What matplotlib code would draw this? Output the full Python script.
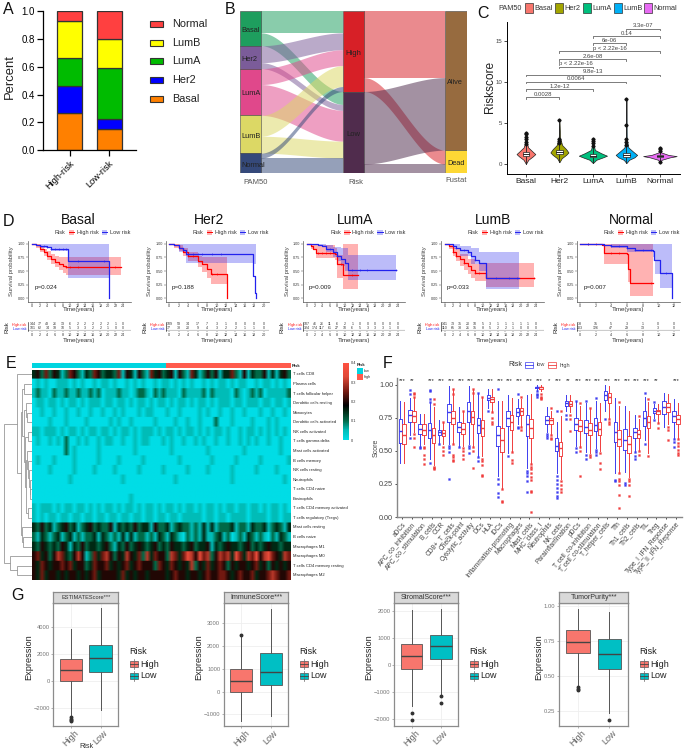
import numpy as np
import matplotlib
matplotlib.use("Agg")
import matplotlib.pyplot as plt
from matplotlib.colors import LinearSegmentedColormap
from matplotlib.patches import Rectangle

plt.rcParams['font.family'] = ['Liberation Sans', 'DejaVu Sans']

W, H = 685, 754

# ---------- panel A ----------
A_GROUPS = ["High-risk", "Low-risk"]
A_SUBTYPES = ["Basal", "Her2", "LumA", "LumB", "Normal"]
A_HIGH = [0.265, 0.20, 0.20, 0.27, 0.065]
A_LOW = [0.155, 0.07, 0.37, 0.21, 0.195]

# ---------- panel B ----------
B_TO_HIGH = [22, 17, 16, 21, 5]
B_TO_LOW = [13, 6, 31, 17, 15]
B_HIGH_FATE = [67, 14]
B_LOW_FATE = [73, 9]
B_RISK = ["High", "Low"]
B_FATE = ["Alive", "Dead"]

# ---------- panel C ----------
C_Y_BASAL = [0.0, 0.5, 0.9, 1.2, 1.5, 2.0, 2.6, 3.8]
C_W_BASAL = [0.0, 0.07, 0.2, 0.28, 0.2, 0.07, 0.02, 0.0]
C_Y_HER2 = [0.2, 0.7, 1.1, 1.4, 1.8, 2.3, 3.2, 5.5]
C_W_HER2 = [0.0, 0.07, 0.2, 0.27, 0.2, 0.08, 0.02, 0.0]
C_Y_LUMA = [0.1, 0.5, 0.8, 1.0, 1.3, 1.7, 2.3, 3.2]
C_W_LUMA = [0.0, 0.1, 0.3, 0.42, 0.25, 0.06, 0.02, 0.0]
C_Y_LUMB = [0.1, 0.5, 0.8, 1.1, 1.5, 2.0, 3.0, 8.0]
C_W_LUMB = [0.0, 0.08, 0.24, 0.32, 0.2, 0.06, 0.01, 0.0]
C_Y_NORMAL = [0.1, 0.5, 0.8, 0.95, 1.1, 1.4, 2.1]
C_W_NORMAL = [0.0, 0.05, 0.3, 0.5, 0.25, 0.04, 0.0]
C_BOX = [(1.0, 1.2, 1.45), (1.2, 1.4, 1.7), (0.8, 0.95, 1.15), (0.9, 1.1, 1.35), (0.8, 0.95, 1.1)]
C_OUT = [[2.4, 2.7, 3.0, 3.3, 3.6, 3.8], [2.5, 2.8, 3.1, 5.3], [2.2, 2.5, 2.8, 3.1],
         [2.3, 2.7, 3.0, 4.7, 7.9], [1.6, 1.8, 2.0, 0.2]]
C_BRACKETS = [(0, 1, 8.13, "0.0028"), (0, 2, 9.1, "1.2e-12"), (0, 3, 10.04, "0.0064"),
              (0, 4, 10.9, "9.8e-13"), (1, 2, 11.87, "p < 2.22e-16"), (1, 3, 12.8, "2.6e-08"),
              (1, 4, 13.75, "p < 2.22e-16"), (2, 3, 14.7, "6e-06"), (2, 4, 15.6, "0.14"),
              (3, 4, 16.5, "3.3e-07")]

# ---------- panel D ----------
BASAL_HIGH_T = [0, 1, 2, 3, 4, 5, 6, 7, 8, 8.8, 23.6]
BASAL_HIGH_S = [1, .97, .90, .84, .78, .72, .67, .63, .60, .57, .57]
BASAL_HIGH_UP_T = [0, 1, 2, 3, 4, 5, 6, 7, 8, 23.6]
BASAL_HIGH_UP = [1, .99, .94, .90, .86, .81, .78, .76, .75, .74]
BASAL_HIGH_LO_T = [0, 1, 2, 3, 4, 5, 6, 7, 8, 8.8, 23.6]
BASAL_HIGH_LO = [1, .93, .85, .78, .71, .63, .57, .52, .47, .43, .43]
BASAL_LOW_T = [0, 1, 2, 4, 5, 9.4, 9.5, 20.3, 20.3]
BASAL_LOW_S = [1, .98, .96, .94, .91, .90, .68, .68, 0]
BASAL_LOW_UP_T = [0, 20.3]
BASAL_LOW_UP = [1, 1]
BASAL_LOW_LO_T = [0, 2, 5, 9.5, 20.3]
BASAL_LOW_LO = [1, .93, .86, .38, .38]
BASAL_CENS = ([9, 10, 12, 22], [3, 4, 5, 6, 7, 8, 9, 12, 19])
BASAL_TABLE = ([144, 77, 43, 26, 13, 6, 2, 2, 2, 2, 2, 1, 0],
               [101, 62, 34, 18, 10, 5, 3, 3, 2, 2, 1, 0, 0])

HER2_HIGH_T = [0, 1, 2, 3, 4, 6, 7, 8, 8.8, 12.2, 12.2]
HER2_HIGH_S = [1, .97, .93, .85, .78, .68, .62, .53, .44, .44, 0]
HER2_HIGH_UP_T = [0, 2, 3, 4, 6, 7, 12.2]
HER2_HIGH_UP = [1, .98, .92, .85, .78, .76, .76]
HER2_HIGH_LO_T = [0, 1, 2, 3, 4, 6, 7, 8, 8.8, 12.2]
HER2_HIGH_LO = [1, .93, .87, .77, .68, .57, .48, .38, .26, .26]
HER2_LOW_T = [0, 1, 2, 3, 3.5, 17.8, 17.8, 18.2, 18.2, 18.3]
HER2_LOW_S = [1, .97, .92, .88, .81, .80, .40, .40, .10, 0]
HER2_LOW_UP_T = [0, 18.3]
HER2_LOW_UP = [1, 1]
HER2_LOW_LO_T = [0, 2, 3.5, 17.8, 18.3]
HER2_LOW_LO = [1, .85, .65, .63, .63]
HER2_CENS = ([4, 5, 9, 10], [4, 5, 6, 7, 9, 11])
HER2_TABLE = ([109, 53, 34, 17, 7, 3, 1, 0, 0, 0, 0],
              [77, 38, 20, 9, 4, 3, 2, 2, 1, 1, 0])

LUMA_HIGH_T = [0, 1, 1.5, 2.5, 7.5, 8, 9.5, 9.6, 13.5]
LUMA_HIGH_S = [1, .95, .90, .83, .82, .62, .60, .42, .42]
LUMA_HIGH_UP_T = [0, 2, 7.5, 8, 9.6, 13.5]
LUMA_HIGH_UP = [1, .97, .93, .80, 1, 1]
LUMA_HIGH_LO_T = [0, 1, 2.5, 7.5, 8, 9.6, 13.5]
LUMA_HIGH_LO = [1, .90, .73, .70, .37, .17, .17]
LUMA_LOW_T = [0, 3, 4, 5, 7, 8, 9, 10, 10.8, 23.6]
LUMA_LOW_S = [1, .98, .95, .90, .84, .78, .72, .65, .52, .52]
LUMA_LOW_UP_T = [0, 5, 7, 9, 10.8, 23.6]
LUMA_LOW_UP = [1, .98, .94, .92, .80, .80]
LUMA_LOW_LO_T = [0, 3, 5, 7, 8, 9, 10, 10.8, 23.6]
LUMA_LOW_LO = [1, .95, .85, .76, .68, .60, .50, .33, .33]
LUMA_CENS = ([3, 4, 5, 6, 9, 12], [6, 8, 12, 14, 16, 23.5])
LUMA_TABLE = ([107, 46, 26, 11, 6, 2, 1, 0, 0, 0, 0, 0, 0],
              [324, 174, 117, 61, 27, 10, 6, 5, 3, 3, 3, 1, 0])

LUMB_HIGH_T = [0, 1, 2, 3, 4, 5, 6, 7, 8, 10.8, 10.9, 23.6]
LUMB_HIGH_S = [1, .95, .85, .78, .72, .65, .60, .52, .46, .45, .37, .37]
LUMB_HIGH_UP_T = [0, 2, 4, 6, 8, 10.8, 10.9, 23.6]
LUMB_HIGH_UP = [1, .92, .82, .72, .62, .62, .65, .65]
LUMB_HIGH_LO_T = [0, 1, 2, 3, 4, 5, 6, 7, 8, 10.9, 23.6]
LUMB_HIGH_LO = [1, .90, .78, .68, .60, .52, .45, .38, .32, .20, .20]
LUMB_LOW_T = [0, 2, 3, 4, 6, 7, 8, 9, 10.8, 10.9, 19.5]
LUMB_LOW_S = [1, .96, .92, .88, .85, .77, .70, .65, .62, .37, .37]
LUMB_LOW_UP_T = [0, 4, 7, 9, 19.5]
LUMB_LOW_UP = [1, .96, .92, .84, .83]
LUMB_LOW_LO_T = [0, 2, 4, 7, 9, 10.9, 19.5]
LUMB_LOW_LO = [1, .90, .78, .63, .50, .17, .17]
LUMB_CENS = ([2, 3, 5, 8, 9, 23.5], [3, 5, 6, 8, 13.5, 17, 19])
LUMB_TABLE = ([141, 73, 35, 20, 10, 5, 3, 1, 1, 1, 1, 1, 0],
              [110, 65, 33, 21, 15, 8, 5, 2, 2, 1, 0, 0, 0])

NORMAL_HIGH_T = [0, 2.8, 3, 6, 6.1, 6.4, 9.3]
NORMAL_HIGH_S = [1, .98, .83, .82, .54, .28, .28]
NORMAL_HIGH_UP_T = [0, 9.3]
NORMAL_HIGH_UP = [1, 1]
NORMAL_HIGH_LO_T = [0, 3, 6.1, 6.4, 9.3]
NORMAL_HIGH_LO = [1, .63, .30, .05, .05]
NORMAL_LOW_T = [0, 3, 4, 6, 7, 9.3, 9.5, 10.2, 11.7, 11.7]
NORMAL_LOW_S = [1, .98, .96, .92, .88, .87, .70, .46, .46, 0]
NORMAL_LOW_UP_T = [0, 11.7]
NORMAL_LOW_UP = [1, 1]
NORMAL_LOW_LO_T = [0, 4, 6, 9.3, 9.6, 10.2, 11.7]
NORMAL_LOW_LO = [1, .93, .84, .75, .44, .18, .18]
NORMAL_CENS = ([1, 2, 4, 5, 9], [1, 3, 4, 5, 6, 7, 8, 9, 11])
NORMAL_TABLE = ([33, 15, 5, 3, 1, 0, 0],
                [203, 126, 47, 29, 13, 3, 0])

# ---------- panel E ----------
E_ROWS = ["T cells CD8", "Plasma cells", "T cells follicular helper", "Dendritic cells resting",
          "Monocytes", "Dendritic cells activated", "NK cells activated", "T cells gamma delta",
          "Mast cells activated", "B cells memory", "NK cells resting", "Neutrophils",
          "T cells CD4 naive", "Eosinophils", "T cells CD4 memory activated",
          "T cells regulatory (Tregs)", "Mast cells resting", "B cells naive", "Macrophages M1",
          "Macrophages M0", "T cells CD4 memory resting", "Macrophages M2"]
# one digit per column block, level = digit * 0.05
E_LEVELS = ["3425 2431 2542 1325 4233 2514 3142 1534 2341 4215 3124 2413 3521 4132 2413 1342",
            "0101 0011 1010 1001 0110 1001 0101 0010 1101 0101 0010 1011 0101 1001 0110 1010",
            "1211 0211 2112 1121 2011 1211 0122 1021 2111 0211 1120 2111 1021 0121 2011 1112",
            "0110 1101 0110 1011 1011 0110 1011 0101 1010 1101 0110 1011 1011 0111 0110 1101",
            "0010 0100 1001 0010 0100 1010 0010 1100 0100 1000 0101 0010 0100 1000 1001 0010",
            "0000 1000 1000 0100 0001 0100 1000 0010 0001 0010 0100 0200 0100 0010 0010 1000",
            "1101 1101 0110 1011 0110 1011 0101 1101 0110 1011 0101 0110 1001 0110 1010 1010",
            "0100 1010 2001 0100 1011 0010 0101 1000 1010 0100 1010 0100 1001 0101 0010 0100",
            "0000 0000 2010 0000 1000 0000 0100 0000 0010 0000 0001 0000 0000 1000 0000 0100",
            "0100 0100 0010 0000 1000 0100 0001 0000 0000 1000 0000 1000 0010 0000 1000 0001",
            "0000 1000 0010 0001 0000 1000 0010 0000 1000 0010 0001 0000 0100 0001 0000 1000",
            "0000 0000 0100 0000 0000 0010 0000 0000 0001 0000 0000 0000 0100 0000 0000 0010",
            "0000 0000 0000 0000 0000 0000 0000 0000 0000 0000 0000 0000 0000 0000 0000 0000",
            "0000 0000 0000 0000 0000 0000 1000 0000 0000 0000 0000 0000 0000 0000 0000 0000",
            "1011 1010 1101 1010 1011 0101 1010 1101 0110 1011 0101 1010 1101 1011 0101 1010",
            "1010 1101 1011 0110 1101 1011 0110 1101 1011 0111 1101 1011 0111 1011 1101 1011",
            "3242 3123 4231 2342 3224 1323 2423 3142 2312 3221 2131 3122 2312 2132 2312 3213",
            "2132 1231 2312 1223 1321 2131 3122 1213 2132 1021 2131 1231 2012 1321 2102 1321",
            "3243 2324 3132 4233 2342 1324 2343 2342 3243 3234 2334 1323 4332 3423 2343 3233",
            "4534 2465 3246 4125 3564 2436 4352 6354 4265 3576 4756 2465 6375 3657 4675 4365",
            "4354 3445 4534 4235 4453 4345 3454 4425 4354 3436 2435 3454 2434 4345 3424 3434",
            "4353 4434 3443 4345 3444 4353 4344 3444 4345 4434 4345 4455 4345 4453 4456 5445"]
E_LOW_SHARE = 0.52
E_TREE = (82, (45, 0, (33, (28, (23, 1, 2),
                            (22, (16, 3, (13, 4, 5)),
                             (20, (12, 6, 7),
                              (17, (14, 8, (11, 9, (9, 10, (6, 11, (4, 12, 13))))), (10, 14, 15))))),
                       (29, 16, (25, 17, 18)))),
          (65, 19, (43, 20, 21)))

# ---------- panel F ----------
F_NAMES = ["aDCs", "APC_co_inhibition", "APC_co_stimulation", "B_cells", "CCR", "CD8+_T_cells",
           "Check-point", "Cytolytic_activity", "DCs", "HLA", "iDCs", "Inflammation-promoting",
           "Macrophages", "Mast_cells", "MHC_class_I", "Neutrophils", "NK_cells",
           "Parainflammation", "pDCs", "T_cell_co-inhibition", "T_cell_co-stimulation",
           "T_helper_cells", "Tfh", "Th1_cells", "Th2_cells", "TIL", "Treg",
           "Type_I_IFN_Reponse", "Type_II_IFN_Reponse"]
F_STARS = ["***", "**", "", "***", "***", "***", "***", "***", "***", "***", "***", "***", "***",
           "***", "***", "*", "***", "**", "***", "***", "***", "***", "***", "***", "***", "***",
           "**", "", "***"]
# whisker low, q1, median, q3, whisker high
F_LOW = [(.41, .56, .65, .74, .88), (.62, .72, .77, .81, .90), (.54, .63, .665, .70, .78),
         (.44, .60, .655, .71, .87), (.56, .62, .64, .66, .73), (.55, .72, .79, .85, .99),
         (.54, .64, .68, .72, .83), (.55, .72, .80, .87, .99), (.46, .635, .695, .75, .93),
         (.82, .885, .90, .92, .97), (.31, .54, .62, .69, .88), (.48, .69, .75, .80, .92),
         (.70, .76, .79, .82, .89), (.37, .61, .70, .77, .92), (.96, .975, .98, .985, 1.0),
         (.64, .70, .73, .76, .83), (.33, .50, .54, .60, .72), (.80, .84, .86, .875, .92),
         (.54, .66, .70, .745, .88), (.49, .635, .68, .73, .86), (.52, .65, .695, .745, .88),
         (.80, .885, .92, .95, 1.0), (.33, .565, .645, .72, .90), (.34, .51, .58, .665, .84),
         (.50, .60, .64, .675, .77), (.58, .69, .745, .80, .91), (.75, .785, .80, .82, .85),
         (.68, .78, .83, .875, .94), (.60, .72, .76, .80, .89)]
F_HIGH = [(.41, .55, .62, .70, .87), (.64, .72, .76, .80, .90), (.55, .62, .66, .70, .78),
          (.39, .56, .62, .67, .83), (.55, .615, .635, .66, .71), (.56, .70, .745, .80, .96),
          (.54, .63, .665, .71, .80), (.54, .70, .755, .80, .97), (.46, .61, .675, .73, .90),
          (.80, .87, .89, .91, .97), (.22, .49, .585, .67, .88), (.50, .66, .715, .77, .90),
          (.69, .77, .80, .825, .89), (.41, .60, .675, .74, .93), (.95, .97, .98, .985, .995),
          (.63, .70, .73, .75, .80), (.29, .46, .52, .57, .76), (.79, .84, .855, .875, .92),
          (.54, .65, .685, .73, .84), (.48, .62, .66, .71, .82), (.50, .62, .665, .72, .86),
          (.75, .86, .91, .94, .99), (.34, .54, .59, .66, .84), (.30, .485, .55, .61, .80),
          (.51, .60, .63, .66, .74), (.48, .67, .72, .76, .87), (.72, .78, .80, .81, .85),
          (.70, .79, .83, .86, .93), (.60, .70, .74, .77, .86)]
F_LOW_OUT = [[], [.96, .93, .60], [.53, .52], [.96, .95, .89, .87, .41], [.55],
             [.54, .52, .49, .29], [.53], [.54, .52, .48], [.94, .45, .42], [.80],
             [.97, .29, .25, .18, .15], [.46], [.93, .68, .67], [.35, .33, .31, .27, .19],
             [.95, .93, .92, .91], [.63, .61, .60], [.80, .31, .28, .25, .22, .19, .16, .14],
             [.77, .74], [.88, .52, .49], [.88, .47, .44], [.90, .51, .49, .47], [.74],
             [.28, .27], [.26, .24], [.49, .46, .44], [.94, .55], [.87, .73], [],
             [.59, .57, .53]]
F_HIGH_OUT = [[], [.94, .93, .91, .63, .60, .53], [.53, .52, .47, .44, .40],
              [.89, .85, .38, .37, .36], [.72, .53, .50, .47], [.97, .93, .55, .47, .45, .43, .42],
              [.80, .52, .50, .47, .44], [.97, .94, .53, .50, .37], [.91, .44, .42, .39, .32, .31],
              [.79, .75, .72, .70], [.21, .12, .11], [.49, .43, .41], [.91, .68, .66],
              [.40, .38, .36, .33, .30, .28, .20, .19, .04], [.93, .91, .90, .89],
              [.82, .62, .60, .59], [.80, .27, .24, .21, .19], [.77, .74, .65],
              [.86, .53, .50, .31], [.82, .47, .45], [.48, .41, .36], [.74, .72, .70],
              [.87, .33, .29, .27, .24, .17, .07], [.29, .27, .24, .16], [.76, .50, .47],
              [.89, .46], [.71, .67], [.68, .66, .58], [.59, .56, .54, .51, .48, .47]]

# ---------- panel G ----------
G_TITLES = ["ESTIMATEScore***", "ImmuneScore***", "StromalScore***", "TumorPurity***"]
G_HIGH = [(-2550, -10, 850, 1620, 3850), (-1270, 0, 460, 980, 2400),
          (-1500, -150, 320, 780, 2030), (.44, .665, .745, .825, .98)]
G_LOW = [(-2100, 650, 1700, 2650, 5350), (-1060, 270, 870, 1670, 3620),
         (-1050, 220, 700, 1120, 2080), (.24, .55, .66, .765, .955)]
G_HIGH_OUT = [[-2650, -2750, -2850, -2900], [2480], [-1750, -2040], [.42, .41, .40]]
G_LOW_OUT = [[], [], [-1150, -1390], [.19]]
G_TICKS = [[-2000, 0, 2000, 4000], [-1000, 0, 1000, 2000, 3000], [-2000, -1000, 0, 1000, 2000],
           [.25, .50, .75, 1.00]]
G_TICKLABELS = [["\u22122000", "0", "2000", "4000"], ["\u22121000", "0", "1000", "2000", "3000"],
                ["\u22122000", "\u22121000", "0", "1000", "2000"], ["0.25", "0.50", "0.75", "1.00"]]
G_YLIM = [(-3264, 5742), (-1495, 3883), (-2235, 2284), (.147, 1.02)]

fig = plt.figure(figsize=(W / 100, H / 100), dpi=100, facecolor="white")


def ax_px(x0, y0, x1, y1):
    return fig.add_axes([x0 / W, 1 - y1 / H, (x1 - x0) / W, (y1 - y0) / H])


# overlay in pixel coordinates, for panel letters and hand placed legends
pg = ax_px(0, 0, W, H)
pg.set_xlim(0, W)
pg.set_ylim(H, 0)
pg.axis("off")
pg.set_zorder(20)
pg.patch.set_alpha(0)

for letter, x, y in [("A", 3, 10), ("B", 225, 10), ("C", 477, 13), ("D", 3, 222),
                     ("E", 6, 363), ("F", 383, 364), ("G", 11, 595)]:
    pg.text(x, y, letter, fontsize=11.5, ha="left", va="center", color="#111111")

# ---------- A: stacked bars ----------
colors_a = ["#FF8000", "#0000FF", "#00BB00", "#FFFF00", "#FF4040"]
ax = ax_px(43, 11.5, 136, 150)
bottom = np.zeros(2)
for i, name in enumerate(A_SUBTYPES):
    vals = np.array([A_HIGH[i], A_LOW[i]])
    ax.bar([0, 1], vals, 0.63, bottom=bottom, color=colors_a[i], edgecolor="#333333", linewidth=0.9, label=name)
    bottom += vals
ax.set_xlim(-0.67, 1.68)
ax.set_ylim(0, 1)
ax.set_yticks([0, 0.2, 0.4, 0.6, 0.8, 1.0])
ax.set_xticks([0, 1])
ax.set_xticklabels(A_GROUPS, rotation=45, ha="right", rotation_mode="anchor", fontsize=6.6)
ax.tick_params(axis="y", labelsize=7, width=0.9, length=4, pad=2)
ax.tick_params(axis="x", width=0.9, length=4, pad=2)
ax.spines[["top", "right"]].set_visible(False)
ax.spines[["left", "bottom"]].set_linewidth(0.9)
pg.text(10, 77, "Percent", rotation=90, fontsize=9.4, ha="center", va="center", color="#222222")
for i, name in enumerate(A_SUBTYPES):
    yy = 98.5 - i * 18.6
    pg.add_patch(Rectangle((150, yy - 3), 13, 6, facecolor=colors_a[i], edgecolor="#333333", linewidth=0.8))
    pg.text(172.5, yy, name, fontsize=7.8, ha="left", va="center", color="#222222")

# ---------- B: alluvial ----------
node_a = ["#1E9E5E", "#7B5C99", "#E0488B", "#DCD865", "#35497A"]
node_b = ["#D72027", "#502C4D"]
node_c = ["#976B3F", "#FDD835"]
ax = ax_px(240, 11, 467, 173)
total = sum(B_TO_HIGH) + sum(B_TO_LOW)
ax.set_xlim(240, 467)
ax.set_ylim(total, 0)
ax.axis("off")


def band(x0, x1, a0, a1, b0, b1, color):
    xs = np.linspace(x0, x1, 60)
    t = (xs - x0) / (x1 - x0)
    s = t * t * (3 - 2 * t)
    ax.fill_between(xs, a0 + (b0 - a0) * s, a1 + (b1 - a1) * s, color=color, alpha=0.52, linewidth=0)


left_top = 0
right_high = 0
right_low = sum(B_TO_HIGH)
for i, name in enumerate(A_SUBTYPES):
    h, l = B_TO_HIGH[i], B_TO_LOW[i]
    band(261, 343, left_top, left_top + h, right_high, right_high + h, node_a[i])
    band(261, 343, left_top + h, left_top + h + l, right_low, right_low + l, node_a[i])
    ax.add_patch(Rectangle((240, left_top), 21, h + l, facecolor=node_a[i], edgecolor="#444444", linewidth=0.4))
    ax.text(241, left_top + (h + l) / 2 + 2, name, fontsize=5.3, va="center", ha="left", color="#222222", clip_on=False)
    left_top += h + l
    right_high += h
    right_low += l

fate_alive = 0
fate_dead = B_HIGH_FATE[0] + B_LOW_FATE[0]
risk_top = 0
for i, name in enumerate(B_RISK):
    fate = B_HIGH_FATE if i == 0 else B_LOW_FATE
    band(364, 445, risk_top, risk_top + fate[0], fate_alive, fate_alive + fate[0], node_b[i])
    band(364, 445, risk_top + fate[0], risk_top + sum(fate), fate_dead, fate_dead + fate[1], node_b[i])
    ax.add_patch(Rectangle((343, risk_top), 21, sum(fate), facecolor=node_b[i], edgecolor="#444444", linewidth=0.4))
    ax.text(353.5, risk_top + sum(fate) / 2 + 2, name, fontsize=5.5, va="center", ha="center", color="#222222")
    risk_top += sum(fate)
    fate_alive += fate[0]
    fate_dead += fate[1]

alive = B_HIGH_FATE[0] + B_LOW_FATE[0]
dead = B_HIGH_FATE[1] + B_LOW_FATE[1]
ax.add_patch(Rectangle((445, 0), 22, alive, facecolor=node_c[0], edgecolor="#444444", linewidth=0.4))
ax.add_patch(Rectangle((445, alive), 22, dead, facecolor=node_c[1], edgecolor="#444444", linewidth=0.4))
ax.text(447, alive / 2 + 2, B_FATE[0], fontsize=5.3, va="center", ha="left", color="#222222")
ax.text(447, alive + dead / 2 + 2, B_FATE[1], fontsize=5.3, va="center", ha="left", color="#222222")
pg.text(256, 182, "PAM50", fontsize=5.5, ha="center", va="center", color="#555555")
pg.text(356, 182, "Risk", fontsize=5.5, ha="center", va="center", color="#555555")
pg.text(456, 181, "Fustat", fontsize=5.5, ha="center", va="center", color="#555555")

# ---------- C: violins ----------
colors_c = ["#F8766D", "#A3A500", "#00BF7D", "#00B0F6", "#E76BF3"]
profiles = [(C_Y_BASAL, C_W_BASAL), (C_Y_HER2, C_W_HER2), (C_Y_LUMA, C_W_LUMA),
            (C_Y_LUMB, C_W_LUMB), (C_Y_NORMAL, C_W_NORMAL)]
ax = ax_px(506.5, 21.7, 680, 173.5)
ax.set_xlim(-0.58, 4.6)
ax.set_ylim(-1.17, 17.35)
for i, (ys, ws) in enumerate(profiles):
    ws = np.array(ws)
    ax.fill_betweenx(ys, i - ws, i + ws, facecolor=colors_c[i], edgecolor="#222222", linewidth=0.5, zorder=2)
    ax.plot([i, i], [ys[0], ys[-1]], color="#222222", lw=0.6, zorder=2)
    ax.plot([i] * len(C_OUT[i]), C_OUT[i], "D", color="#111111", ms=1.6, zorder=3)
    q1, med, q3 = C_BOX[i]
    ax.add_patch(Rectangle((i - 0.1, q1), 0.2, q3 - q1, facecolor="white", edgecolor="#222222", linewidth=0.5, zorder=4))
    ax.plot([i - 0.1, i + 0.1], [med, med], color="#222222", lw=0.7, zorder=5)
for a, b, y, label in C_BRACKETS:
    ax.plot([a, a, b, b], [y - 0.2, y, y, y - 0.2], color="#666666", lw=0.6)
    ax.text((a + b) / 2, y + 0.03, label, fontsize=4.3, ha="center", va="bottom", color="#444444")
ax.set_xticks(range(5))
ax.set_xticklabels(A_SUBTYPES, fontsize=6, color="#222222")
ax.set_yticks([0, 5, 10, 15])
ax.tick_params(axis="y", labelsize=4.4, length=2, width=0.5, pad=1, labelcolor="#444444")
ax.tick_params(axis="x", length=2, width=0.5, pad=1.5)
ax.spines[["top", "right"]].set_visible(False)
ax.spines[["left", "bottom"]].set_linewidth(0.7)
pg.text(490.5, 87, "Riskscore", rotation=90, fontsize=8.6, ha="center", va="center", color="#222222")
pg.text(498, 8, "PAM50", fontsize=5.2, ha="left", va="center", color="#333333")
for name, col, kx in zip(A_SUBTYPES, colors_c, [525, 555, 583, 614, 644]):
    pg.add_patch(Rectangle((kx, 3), 8.5, 9.5, facecolor=col, edgecolor="#333333", linewidth=0.5))
    pg.text(kx + 9.5, 8, name, fontsize=5.3, ha="left", va="center", color="#333333")


# ---------- D: survival curves ----------
def step_at(ts, vals, grid):
    idx = np.searchsorted(ts, grid, side="right") - 1
    return np.array(vals)[idx]


def km_curve(ax, t, s, up_t, up, lo_t, lo, cens, color):
    grid = np.unique(up_t + lo_t)
    ax.fill_between(grid, step_at(lo_t, lo, grid), step_at(up_t, up, grid), step="post",
                    color=color, alpha=0.3, linewidth=0)
    ax.step(t, s, where="post", color=color, lw=0.9)
    ax.plot(cens, step_at(t, s, np.array(cens)), "+", color=color, ms=2, mew=0.4)


def km_panel(title, title_x, spine, tick0, tickend, xmax, right, p, high, low, table, ticks):
    scale = (tickend - tick0) / xmax
    xlim = ((spine - tick0) / scale, (right - tick0) / scale)
    ax = ax_px(spine, 241, right, 301.7)
    km_curve(ax, *high, "#FF0000")
    km_curve(ax, *low, "#2222EE")
    ax.set_xlim(xlim)
    ax.set_ylim(-0.062, 1.05)
    ax.set_xticks(ticks)
    ax.set_yticks([0, .25, .5, .75, 1])
    ax.set_yticklabels(["0.00", "0.25", "0.50", "0.75", "1.00"])
    ax.tick_params(labelsize=2.7, length=1.2, width=0.3, pad=0.8, colors="#333333")
    ax.spines[["top", "right"]].set_visible(False)
    ax.spines[["left", "bottom"]].set_linewidth(0.5)
    ax.spines[["left", "bottom"]].set_color("#555555")
    ax.text(0.5, 0.19, p, fontsize=4.5, ha="left", va="center", color="#222222")
    pg.text(spine - 16, 271, "Survival probability", rotation=90, fontsize=4.2, ha="center", va="center", color="#444444")
    cx = (spine + right) / 2
    pg.text(cx, 310, "Time(years)", fontsize=4.4, ha="center", va="center", color="#333333")
    pg.text(title_x, 220, title, fontsize=10, ha="center", va="center", color="#111111")

    # legend row
    x0 = spine + 27
    pg.text(x0, 232.3, "Risk", fontsize=4, ha="left", va="center", color="#333333")
    for kx, col, name in [(x0 + 14, "#FF0000", "High risk"), (x0 + 47, "#2222EE", "Low risk")]:
        pg.add_patch(Rectangle((kx, 229.5), 5.5, 5.5, facecolor=col, alpha=0.3, linewidth=0))
        pg.plot([kx, kx + 5.5], [232.3, 232.3], color=col, lw=0.7)
        pg.text(kx + 8, 232.3, name, fontsize=4, ha="left", va="center", color="#333333")

    # numbers at risk
    tb = ax_px(spine, 322, right, 331)
    tb.set_xlim(xlim)
    tb.set_ylim(0, 9)
    for j, tick in enumerate(ticks):
        tb.text(tick, 6.8, str(table[0][j]), fontsize=2.6, ha="center", va="center", color="#333333")
        tb.text(tick, 2.8, str(table[1][j]), fontsize=2.6, ha="center", va="center", color="#333333")
    tb.axhline(0, color="#CCCCCC", lw=1.6)
    tb.set_xticks(ticks)
    tb.set_yticks([])
    tb.tick_params(labelsize=2.7, length=0.8, width=0.3, pad=0.5, colors="#333333")
    tb.spines[["top", "right", "bottom"]].set_visible(False)
    tb.spines["left"].set_linewidth(0.4)
    pg.text(spine - 1.5, 324.8, "High risk", fontsize=2.6, ha="right", va="center", color="#FF0000")
    pg.text(spine - 1.5, 328.6, "Low risk", fontsize=2.6, ha="right", va="center", color="#2222EE")
    pg.text(spine - 21, 327, "Risk", rotation=90, fontsize=4.3, ha="center", va="center", color="#222222")
    pg.text(cx, 340.5, "Time(years)", fontsize=4.4, ha="center", va="center", color="#333333")


t24 = list(range(0, 25, 2))
km_panel("Basal", 78, 28, 32.3, 123, 24, 131, "p=0.024",
         (BASAL_HIGH_T, BASAL_HIGH_S, BASAL_HIGH_UP_T, BASAL_HIGH_UP, BASAL_HIGH_LO_T, BASAL_HIGH_LO, BASAL_CENS[0]),
         (BASAL_LOW_T, BASAL_LOW_S, BASAL_LOW_UP_T, BASAL_LOW_UP, BASAL_LOW_LO_T, BASAL_LOW_LO, BASAL_CENS[1]),
         BASAL_TABLE, t24)
km_panel("Her2", 209, 165.7, 169.3, 263.7, 20, 269, "p=0.188",
         (HER2_HIGH_T, HER2_HIGH_S, HER2_HIGH_UP_T, HER2_HIGH_UP, HER2_HIGH_LO_T, HER2_HIGH_LO, HER2_CENS[0]),
         (HER2_LOW_T, HER2_LOW_S, HER2_LOW_UP_T, HER2_LOW_UP, HER2_LOW_LO_T, HER2_LOW_LO, HER2_CENS[1]),
         HER2_TABLE, list(range(0, 21, 2)))
km_panel("LumA", 355, 303.3, 307, 397.7, 24, 405, "p=0.009",
         (LUMA_HIGH_T, LUMA_HIGH_S, LUMA_HIGH_UP_T, LUMA_HIGH_UP, LUMA_HIGH_LO_T, LUMA_HIGH_LO, LUMA_CENS[0]),
         (LUMA_LOW_T, LUMA_LOW_S, LUMA_LOW_UP_T, LUMA_LOW_UP, LUMA_LOW_LO_T, LUMA_LOW_LO, LUMA_CENS[1]),
         LUMA_TABLE, t24)
km_panel("LumB", 493, 441, 445, 535.7, 24, 544, "p=0.033",
         (LUMB_HIGH_T, LUMB_HIGH_S, LUMB_HIGH_UP_T, LUMB_HIGH_UP, LUMB_HIGH_LO_T, LUMB_HIGH_LO, LUMB_CENS[0]),
         (LUMB_LOW_T, LUMB_LOW_S, LUMB_LOW_UP_T, LUMB_LOW_UP, LUMB_LOW_LO_T, LUMB_LOW_LO, LUMB_CENS[1]),
         LUMB_TABLE, t24)
km_panel("Normal", 631.7, 576.7, 580, 674, 12, 680, "p=0.007",
         (NORMAL_HIGH_T, NORMAL_HIGH_S, NORMAL_HIGH_UP_T, NORMAL_HIGH_UP, NORMAL_HIGH_LO_T, NORMAL_HIGH_LO, NORMAL_CENS[0]),
         (NORMAL_LOW_T, NORMAL_LOW_S, NORMAL_LOW_UP_T, NORMAL_LOW_UP, NORMAL_LOW_LO_T, NORMAL_LOW_LO, NORMAL_CENS[1]),
         NORMAL_TABLE, list(range(0, 13, 2)))

# ---------- E: heatmap ----------
levels = np.array([[int(c) * 0.05 for c in row.replace(" ", "")] for row in E_LEVELS])
cmap_e = LinearSegmentedColormap.from_list("cell", [(0, "#00DDE6"), (0.125, "#00BDB8"), (0.25, "#006A48"),
                                                    (0.375, "#002A14"), (0.45, "#000000"), (0.625, "#701810"),
                                                    (0.825, "#E04A38"), (1, "#FF5040")])
ax = ax_px(31.7, 369.7, 290.7, 580)
# rows repeated so the smoothing only softens the column streaks
im = ax.imshow(np.repeat(levels, 12, axis=0), aspect="auto", cmap=cmap_e, vmin=0, vmax=0.4,
               interpolation="bilinear")
ax.axis("off")
for i, name in enumerate(E_ROWS):
    ax.text(1.008, 1 - (i + 0.5) / len(E_ROWS), name, transform=ax.transAxes, fontsize=3, ha="left", va="center", color="#222222")
bar = ax_px(31.7, 363.3, 290.7, 368.3)
bar.barh([0], [E_LOW_SHARE], left=0, height=1, color="#00D5E0")
bar.barh([0], [1 - E_LOW_SHARE], left=E_LOW_SHARE, height=1, color="#FF5B4D")
bar.set_xlim(0, 1)
bar.set_ylim(-0.5, 0.5)
bar.axis("off")
pg.text(292, 366, "Risk", fontsize=3, fontweight="bold", ha="left", va="center", color="#222222")

den = ax_px(3, 369.7, 31.7, 580)
den.set_xlim(86, 0)
den.set_ylim(len(E_ROWS), 0)
den.axis("off")


def draw_tree(node):
    if not isinstance(node, tuple):
        return 0, node + 0.5
    h, a, b = node
    ha, ya = draw_tree(a)
    hb, yb = draw_tree(b)
    den.plot([ha, h, h, hb], [ya, ya, yb, yb], color="#999999", lw=0.6, solid_joinstyle="miter")
    return h, (ya + yb) / 2


draw_tree(E_TREE)

cax = ax_px(343, 363, 349, 440)
cb = fig.colorbar(im, cax=cax, ticks=[0, 0.1, 0.2, 0.3, 0.4])
cb.ax.set_yticklabels(["0", "0.1", "0.2", "0.3", "0.4"])
cb.outline.set_visible(False)
cb.ax.tick_params(labelsize=2.8, length=0, pad=1, colors="#333333")
pg.text(357, 365, "Risk", fontsize=3, fontweight="bold", ha="left", va="center", color="#222222")
pg.add_patch(Rectangle((357, 368), 6, 6, facecolor="#00D5E0", linewidth=0))
pg.add_patch(Rectangle((357, 374), 6, 6, facecolor="#FF5B4D", linewidth=0))
pg.text(364, 371, "low", fontsize=2.8, ha="left", va="center", color="#333333")
pg.text(364, 377, "high", fontsize=2.8, ha="left", va="center", color="#333333")


# ---------- F: paired boxplots ----------
def box_stats(row, out):
    return dict(whislo=row[0], q1=row[1], med=row[2], q3=row[3], whishi=row[4], fliers=out)


ax = ax_px(396.7, 378, 681.7, 517.3)
blue, red = "#3C3CF0", "#F03C3C"
for rows, outs, col, shift in [(F_LOW, F_LOW_OUT, blue, -0.2), (F_HIGH, F_HIGH_OUT, red, 0.2)]:
    stats = [box_stats(r, o) for r, o in zip(rows, outs)]
    ax.bxp(stats, positions=np.arange(len(stats)) + shift, widths=0.36, manage_ticks=False,
           showcaps=False,
           boxprops=dict(color=col, linewidth=0.65), whiskerprops=dict(color=col, linewidth=0.7),
           medianprops=dict(color=col, linewidth=1.0),
           flierprops=dict(marker="s", markerfacecolor=col, markeredgecolor=col, markersize=1.4, markeredgewidth=0.2))
for i, s in enumerate(F_STARS):
    ax.text(i, 1.033, s, fontsize=4.2, ha="center", va="center", color="#222222")
ax.set_xlim(-0.573, 28.6)
ax.set_ylim(-0.002, 1.05)
ax.set_xticks(range(len(F_NAMES)))
ax.set_xticklabels(F_NAMES, rotation=50, ha="right", rotation_mode="anchor", fontsize=4.8, color="#444444")
ax.set_yticks([0, .25, .5, .75, 1])
ax.set_yticklabels(["0.00", "0.25", "0.50", "0.75", "1.00"])
ax.tick_params(axis="y", labelsize=5.2, length=1.5, width=0.5, pad=1, labelcolor="#444444")
ax.tick_params(axis="x", length=1.5, width=0.5, pad=1)
ax.spines[["top", "right"]].set_visible(False)
ax.spines[["left", "bottom"]].set_linewidth(1)
ax.spines[["left", "bottom"]].set_color("#888888")
pg.text(376, 448, "Score", rotation=90, fontsize=5, ha="center", va="center", color="#444444")
pg.text(508, 365, "Risk", fontsize=5, ha="left", va="center", color="#333333")
for kx, col, name in [(525, blue, "low"), (548, red, "high")]:
    pg.add_patch(Rectangle((kx, 362), 8, 6, facecolor="white", edgecolor=col, linewidth=0.5))
    pg.plot([kx, kx + 8], [365, 365], color=col, lw=0.6)
    pg.text(kx + 12, 365, name, fontsize=4, ha="left", va="center", color="#444444")

# ---------- G: ggplot boxplots ----------
g_panels = [(53.3, 118.3), (223.7, 288.3), (394, 458.3), (559, 628.3)]
g_legend_x = [130, 300, 470, 640]
g_exp_x = [29, 198.5, 369, 538.5]
g_title_size = [4.1, 5.1, 5.1, 5.1]
col_high, col_low = "#F8766D", "#00BFC4"
for i, (x0, x1) in enumerate(g_panels):
    ax = ax_px(x0, 603, x1, 725.7)
    stats = [box_stats(G_HIGH[i], G_HIGH_OUT[i]), box_stats(G_LOW[i], G_LOW_OUT[i])]
    parts = ax.bxp(stats, positions=[1, 2], widths=0.75, patch_artist=True, showcaps=False, manage_ticks=False,
                   boxprops=dict(edgecolor="#555555", linewidth=0.6),
                   whiskerprops=dict(color="#555555", linewidth=0.7),
                   medianprops=dict(color="#444444", linewidth=1.0),
                   flierprops=dict(marker="o", markerfacecolor="#333333", markeredgecolor="#333333", markersize=1.8))
    parts["boxes"][0].set_facecolor(col_high)
    parts["boxes"][1].set_facecolor(col_low)
    ax.set_xlim(0.4, 2.6)
    ax.set_ylim(G_YLIM[i])
    ax.set_xticks([1, 2])
    ax.set_xticklabels(["High", "Low"], rotation=45, ha="center", fontsize=6.5, color="#666666")
    ax.set_yticks(G_TICKS[i])
    ax.set_yticklabels(G_TICKLABELS[i])
    ax.tick_params(axis="y", labelsize=4.2, length=1.5, width=0.4, pad=1, labelcolor="#777777", color="#777777")
    ax.tick_params(axis="x", length=1.5, width=0.4, pad=0.5, color="#777777")
    ax.grid(True, color="#EFEFEF", lw=0.6)
    ax.set_axisbelow(True)
    for sp in ax.spines.values():
        sp.set_color("#8C8C8C")
        sp.set_linewidth(0.9)
    strip = ax_px(x0, 592, x1, 603)
    strip.set_facecolor("#D9D9D9")
    strip.set_xticks([])
    strip.set_yticks([])
    for sp in strip.spines.values():
        sp.set_color("#8C8C8C")
        sp.set_linewidth(0.9)
    strip.text(0.5, 0.5, G_TITLES[i], transform=strip.transAxes, fontsize=g_title_size[i], ha="center", va="center", color="#333333")
    pg.text(g_exp_x[i], 657, "Expression", rotation=90, fontsize=6.6, ha="center", va="center", color="#222222")

    lx = g_legend_x[i]
    pg.text(lx - 1, 652, "Risk", fontsize=6.5, ha="left", va="center", color="#222222")
    for yy, col, name in [(664.3, col_high, "High"), (675.7, col_low, "Low")]:
        pg.plot([lx + 4, lx + 4], [yy - 5, yy + 5], color="#666666", lw=0.5)
        pg.add_patch(Rectangle((lx, yy - 3), 8.5, 6, facecolor=col, edgecolor="#555555", linewidth=0.5))
        pg.plot([lx, lx + 8.5], [yy, yy], color="#444444", lw=0.6)
        pg.text(lx + 10.5, yy, name, fontsize=6.5, ha="left", va="center", color="#222222")
pg.text(86, 746, "Risk", fontsize=5.2, ha="center", va="center", color="#333333")

fig.savefig("out.png", dpi=100)
